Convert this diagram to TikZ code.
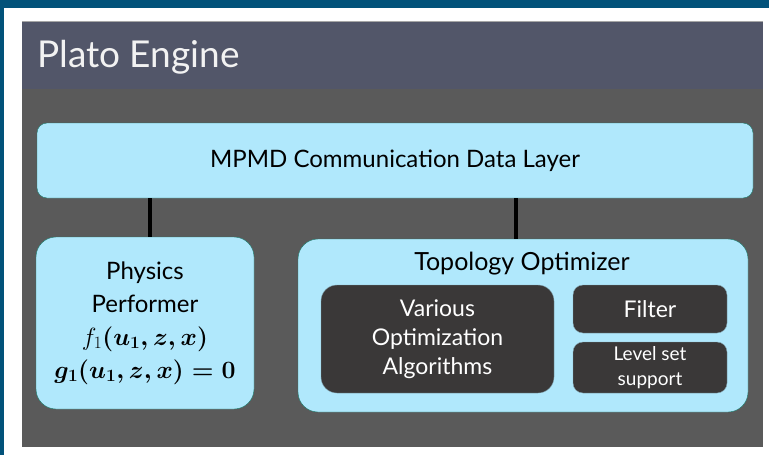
\documentclass[tikz,border=0pt]{standalone}
\usepackage{amsmath}
\usepackage{fontspec}
\setmainfont{Lato}
\usetikzlibrary{positioning}
\definecolor{frameblue}{HTML}{02527A}
\definecolor{titlebar}{HTML}{525669}
\definecolor{panelgrey}{HTML}{5A5A5A}
\definecolor{boxcyan}{HTML}{B0E8FC}
\definecolor{boxedge}{HTML}{1C7A6A}
\definecolor{boxdark}{HTML}{3A3838}
\tikzset{
    % light blue boxes
    layer/.style={
           rectangle,
           rounded corners=12pt,
           draw=boxedge,
           fill=boxcyan,
           inner sep=0pt,
           align=center,
           text=black},
    % dark boxes inside the optimizer
    inner box/.style={
           rectangle,
           rounded corners=10pt,
           draw=boxcyan!60!boxdark,
           fill=boxdark,
           inner sep=0pt,
           align=center,
           text=white},
    % connector style
    link/.style={
           line width=4pt,
           black}
}
\newcommand{\fsz}[2]{\fontsize{#1}{#2}\selectfont}
\begin{document}
\begin{tikzpicture}[x=1pt,y=-1pt]
  \useasboundingbox (0,0) rectangle (769,455);
  % frame and slide panel
  \fill[white] (0,0) rectangle (769,455);
  \fill[frameblue] (0,0) rectangle (769,8);
  \fill[frameblue] (0,0) rectangle (4,455);
  \fill[panelgrey] (22,21) rectangle (763,447);
  \fill[titlebar] (22,21) rectangle (763,89);
  \draw[gray!70,line width=0.8pt] (22,21) -- (763,21);
  \node[anchor=west,text=white!95!black,inner sep=0pt,font=\fsz{37}{37}] (title) at (37,57) {Plato Engine};

  \node[layer,minimum width=716pt,minimum height=75pt,rounded corners=10pt,font=\fsz{24}{24}] (mpmd) at (395,160.5)
      {MPMD Communication Data Layer};
  \node[layer,minimum width=218pt,minimum height=172pt,rounded corners=20pt,font=\fsz{24}{33}] (phys) at (145,323)
      {Physics\\ Performer\\
       $f_1${\boldmath$(u_1,z,x)$}\\
       {\boldmath$g_1(u_1,z,x)=0$}};
  \node[layer,minimum width=450pt,minimum height=173pt,rounded corners=20pt] (topo) at (523,325.5) {};
  \node[text=black,inner sep=0pt,font=\fsz{25}{25}] (topotitle) at (522,264) {Topology Optimizer};
  \node[inner box,minimum width=233pt,minimum height=108pt,rounded corners=16pt,font=\fsz{23}{29}] (algos) at (437.5,339)
      {Various\\ Optimization\\ Algorithms};
  \node[inner box,minimum width=154pt,minimum height=48pt,font=\fsz{23}{23}] (filter) at (650,309)
      {Filter};
  \node[inner box,minimum width=154pt,minimum height=51pt,font=\fsz{19}{25}] (levelset) at (650,367.5)
      {Level set\\ support};

  \draw[link] (mpmd.south -| 150,0) -- (phys.north -| 150,0);
  \draw[link] (mpmd.south -| 516,0) -- (topo.north -| 516,0);
\end{tikzpicture}
\end{document}
